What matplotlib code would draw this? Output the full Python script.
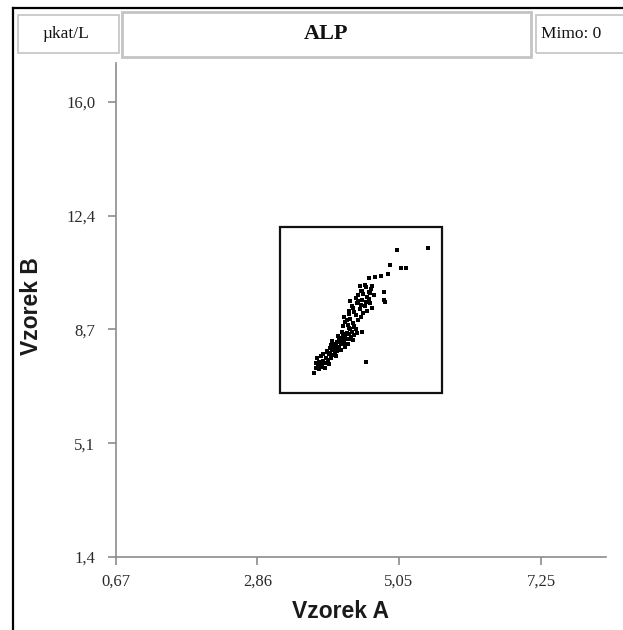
import matplotlib
matplotlib.use("Agg")
import matplotlib.pyplot as plt
from matplotlib.patches import Rectangle
from matplotlib.lines import Line2D

# ---------------- data ----------------
title = "ALP"
unit_label = "µkat/L"
outside_label = "Mimo: 0"
x_label = "Vzorek A"
y_label = "Vzorek B"

x_ticks = [0.67, 2.86, 5.05, 7.25]
x_tick_labels = ["0,67", "2,86", "5,05", "7,25"]
y_ticks = [1.4, 5.05, 8.7, 12.35, 16.0]
y_tick_labels = ["1,4", "5,1", "8,7", "12,4", "16,0"]
x_range = [0.67, 8.256]
y_range = [1.4, 17.25]

# acceptance rectangle (data coords)
rect_x = [3.21, 5.72]
rect_y = [6.66, 11.99]

vzorek_a = [
    # lower band
    3.74, 3.76, 3.80, 3.78, 3.84, 3.86, 3.88, 3.90, 3.92, 3.85, 3.95, 3.97, 3.99, 4.00,
    4.02, 4.03, 4.05, 4.06, 4.08, 4.09, 4.10, 4.12, 4.13, 4.14, 4.15, 4.16, 4.18, 4.19,
    4.20, 4.21, 4.22, 4.24, 4.25, 4.26, 4.28, 4.30, 4.31, 4.33, 4.35, 4.36, 4.38, 4.40,
    4.27, 4.17, 4.11, 4.34, 4.48, 4.00, 3.93, 3.82, 3.96, 4.07, 3.77, 3.88, 4.01, 3.91,
    3.98, 4.04, 4.12, 4.21, 4.29, 3.94, 4.09, 4.23, 3.81, 4.15,
    # middle
    4.18, 4.22, 4.26, 4.30, 4.20, 4.34, 4.38, 4.28, 4.42, 4.46, 4.24, 4.36,
    # upper cluster, lower part
    4.27, 4.32, 4.36, 4.40, 4.44, 4.48, 4.52, 4.56, 4.60, 4.63, 4.30, 4.38, 4.50, 4.58,
    4.46, 4.34, 4.42, 4.54,
    # upper cluster, top part
    4.42, 4.46, 4.50, 4.54, 4.58, 4.62, 4.66, 4.44, 4.56, 4.64, 4.48, 4.60,
    # sparse points
    5.50, 5.02, 4.91, 5.08, 5.16, 4.88, 4.77, 4.68, 4.59, 4.53, 4.82, 4.82, 4.84, 4.54,
]
vzorek_b = [
    # lower band
    7.30, 7.45, 7.55, 7.79, 7.60, 7.50, 7.70, 7.62, 7.80, 7.85, 7.72, 7.90, 7.95, 7.78,
    8.05, 7.88, 8.10, 7.98, 8.20, 8.02, 8.15, 8.30, 8.10, 8.40, 8.22, 8.05, 8.35, 8.50,
    8.28, 8.15, 8.45, 8.60, 8.38, 8.25, 8.55, 8.70, 8.45, 8.62, 8.80, 8.52, 8.72, 8.60,
    8.75, 8.62, 8.50, 8.35, 8.63, 8.20, 8.00, 7.42, 7.58, 7.85, 7.62, 7.92, 8.32, 7.48,
    8.12, 8.25, 8.42, 8.55, 8.40, 7.98, 8.30, 8.40, 7.65, 8.28,
    # middle
    8.80, 8.95, 8.85, 9.05, 9.10, 8.90, 9.15, 9.20, 9.00, 9.10, 9.00, 8.78,
    # upper cluster, lower part
    9.30, 9.45, 9.25, 9.55, 9.35, 9.65, 9.45, 9.28, 9.55, 9.40, 9.60, 9.70, 9.22, 9.68,
    9.50, 9.38, 9.62, 9.58,
    # upper cluster, top part
    9.80, 9.95, 9.85, 10.05, 9.90, 10.00, 9.80, 10.10, 9.75, 10.10, 9.92, 9.88,
    # sparse points
    11.32, 11.25, 10.77, 10.67, 10.67, 10.48, 10.42, 10.39, 10.35, 10.13, 9.90, 9.65, 9.58, 7.66,
]

# ---------------- figure ----------------
W, H = 623, 630
fig = plt.figure(figsize=(W / 100, H / 100), dpi=100)
fig.patch.set_facecolor("white")


def fx(px):
    return px / W


def fy(py):
    return 1 - py / H


# axes placement
left_px, right_px, top_px, bottom_px = 116, 606, 63, 557
ax = fig.add_axes([fx(left_px), fy(bottom_px), (right_px - left_px) / W, (bottom_px - top_px) / H])
ax.set_xlim(*x_range)
ax.set_ylim(*y_range)
for s in ["top", "right"]:
    ax.spines[s].set_visible(False)
for s in ["left", "bottom"]:
    ax.spines[s].set_color("#8c8c8c")
    ax.spines[s].set_linewidth(1.2)

serif = ["Liberation Serif", "DejaVu Serif"]
ax.set_xticks(x_ticks)
ax.set_xticklabels(x_tick_labels, family=serif, fontsize=12, color="#2a2a2a")
ax.set_yticks(y_ticks)
ax.set_yticklabels(y_tick_labels, family=serif, fontsize=12, color="#2a2a2a")
ax.tick_params(axis="both", direction="out", length=6, width=1.2, color="#8c8c8c")
ax.tick_params(axis="x", pad=6)
ax.tick_params(axis="y", pad=9)

# acceptance rectangle
ax.add_patch(Rectangle((rect_x[0], rect_y[0]), rect_x[1] - rect_x[0], rect_y[1] - rect_y[0],
                       fill=False, edgecolor="#111111", linewidth=1.6, zorder=2))

# points
ax.plot(vzorek_a, vzorek_b, linestyle="none", marker="s", markersize=3.1,
        markerfacecolor="black", markeredgewidth=0, color="black", zorder=3)

# axis labels
sans_bold = dict(family=["Liberation Sans", "DejaVu Sans"], fontweight="bold", fontsize=16.5, color="#1a1a1a")
fig.text(fx(340), fy(611), x_label, ha="center", va="center", **sans_bold)
fig.text(fx(32), fy(306), y_label, ha="center", va="center", rotation=90, **sans_bold)

# outer black frame (left and top)
fig.add_artist(Line2D([fx(13), fx(13)], [fy(8), fy(640)], transform=fig.transFigure,
                      color="black", linewidth=1.6))
fig.add_artist(Line2D([fx(13), fx(640)], [fy(8), fy(8)], transform=fig.transFigure,
                      color="black", linewidth=1.6))


def header_box(x0, y0, x1, y1, lw, ec):
    fig.add_artist(Rectangle((fx(x0), fy(y1)), (x1 - x0) / W, (y1 - y0) / H,
                             transform=fig.transFigure, fill=False, edgecolor=ec, linewidth=lw))


header_box(18, 15, 119, 53, 1.2, "#c4c4c4")
header_box(122, 12, 531, 57, 2.0, "#c4c4c4")
header_box(536, 15, 660, 53, 1.2, "#c4c4c4")

fig.text(fx(66), fy(34), unit_label, ha="center", va="center", family=serif, fontsize=12.5, color="#111111")
fig.text(fx(326), fy(34), title, ha="center", va="center", family=serif, fontsize=16,
         fontweight="bold", color="#111111")
fig.text(fx(541), fy(34), outside_label, ha="left", va="center", family=serif, fontsize=12.5, color="#111111")

fig.savefig("out.png", dpi=100, facecolor="white")
